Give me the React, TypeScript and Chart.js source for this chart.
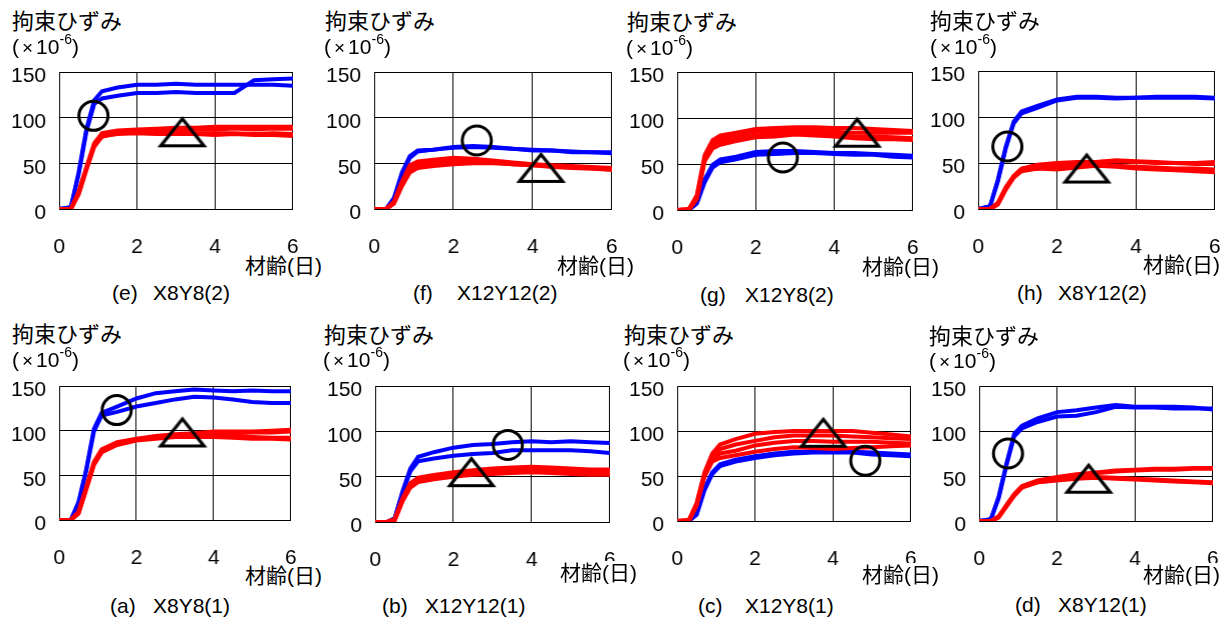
import React, { useEffect, useRef } from "react";
import { Chart, registerables } from "chart.js";

Chart.register(...registerables);

const FONT = "'Liberation Sans', Arial, 'Noto Sans CJK JP', sans-serif";

// shared axis data
const AGE = [0, 0.3, 0.5, 0.7, 0.9, 1.1, 1.5, 2, 2.5, 3, 3.5, 4, 4.5, 5, 5.5, 6];
const X_TICKS = [0, 2, 4, 6];
const Y_TICKS = [0, 50, 100, 150];
const Y_TITLE = "拘束ひずみ";
const X_TITLE = "材齢(日)";

// (e) X8Y8(2)
const E_BLUE_1 = [0, 2, 40, 88, 119, 129, 133, 136, 136, 137, 136, 136, 136, 136, 136, 135];
const E_BLUE_2 = [0, 2, 38, 85, 115, 121, 124, 127, 127, 128, 127, 127, 127, 141, 142, 143];
const E_RED_1 = [0, 0, 19, 46, 72, 83, 86, 87, 88, 89, 89, 90, 90, 90, 90, 90];
const E_RED_2 = [0, 0, 17, 44, 70, 81, 84, 86, 86, 87, 87, 87, 88, 87, 88, 88];
const E_RED_3 = [0, 0, 18, 45, 70, 80, 82, 83, 82, 82, 82, 81, 82, 81, 81, 80];
const E_RED_4 = [0, 0, 16, 43, 68, 79, 83, 85, 84, 84, 83, 83, 83, 82, 83, 82];
const E_CIRCLE = [0.88, 102];
const E_TRIANGLE = [3.16, 84];

// (f) X12Y12(2)
const F_BLUE_1 = [0, 0, 12, 40, 58, 64, 65, 68, 69, 68, 66, 65, 64, 63, 62, 62];
const F_BLUE_2 = [0, 0, 11, 38, 56, 63, 65, 67, 68, 67, 66, 64, 64, 62, 62, 61];
const F_RED_1 = [0, 0, 8, 30, 48, 52, 54, 56, 55, 53, 51, 49, 48, 47, 46, 45];
const F_RED_2 = [0, 0, 7, 28, 45, 49, 52, 54, 54, 52, 50, 49, 47, 46, 45, 44];
const F_RED_3 = [0, 0, 6, 25, 40, 45, 47, 49, 50, 50, 49, 48, 47, 46, 45, 43];
const F_RED_4 = [0, 0, 6, 26, 42, 47, 49, 51, 51, 51, 49, 48, 46, 45, 44, 43];
const F_CIRCLE = [2.59, 75];
const F_TRIANGLE = [4.21, 45];

// (g) X12Y8(2)
const G_BLUE_1 = [0, 0, 8, 33, 49, 55, 58, 63, 64, 64, 63, 62, 62, 61, 60, 59];
const G_BLUE_2 = [0, 0, 7, 30, 46, 52, 55, 60, 61, 62, 62, 61, 60, 60, 58, 57];
const G_RED_1 = [0, 1, 16, 60, 76, 81, 84, 88, 89, 90, 90, 89, 89, 88, 87, 86];
const G_RED_2 = [0, 1, 14, 57, 73, 78, 80, 85, 86, 86, 87, 85, 84, 84, 84, 84];
const G_RED_3 = [0, 0, 13, 55, 70, 75, 77, 81, 83, 84, 83, 82, 80, 80, 79, 78];
const G_RED_4 = [0, 0, 12, 53, 67, 71, 75, 79, 80, 82, 81, 80, 78, 77, 77, 76];
const G_CIRCLE = [2.69, 57];
const G_TRIANGLE = [4.58, 84];

// (h) X8Y12(2)
const H_BLUE_1 = [0, 3, 32, 68, 95, 106, 112, 119, 122, 122, 121, 121, 122, 122, 122, 121];
const H_BLUE_2 = [0, 3, 30, 66, 93, 104, 110, 118, 121, 121, 120, 121, 121, 121, 121, 120];
const H_RED_1 = [0, 0, 7, 24, 36, 44, 48, 50, 51, 51, 53, 52, 51, 50, 50, 51];
const H_RED_2 = [0, 0, 6, 22, 35, 43, 46, 49, 50, 51, 52, 51, 50, 50, 49, 49];
const H_RED_3 = [0, 0, 5, 21, 34, 41, 44, 46, 47, 48, 47, 46, 45, 44, 44, 43];
const H_RED_4 = [0, 0, 5, 22, 35, 42, 44, 43, 45, 47, 46, 44, 43, 42, 41, 40];
const H_CIRCLE = [0.74, 68];
const H_TRIANGLE = [2.75, 44];

// (a) X8Y8(1)
const A_BLUE_1 = [0, 0, 20, 57, 102, 120, 127, 136, 142, 144, 146, 145, 144, 145, 144, 144];
const A_BLUE_2 = [0, 0, 18, 55, 99, 117, 121, 127, 131, 135, 138, 137, 135, 132, 131, 131];
const A_RED_1 = [0, 0, 9, 37, 65, 79, 87, 91, 94, 96, 97, 99, 99, 99, 100, 101];
const A_RED_2 = [0, 0, 8, 35, 63, 77, 85, 90, 93, 95, 96, 97, 97, 98, 98, 99];
const A_RED_3 = [0, 0, 7, 34, 62, 76, 84, 89, 91, 93, 93, 93, 92, 91, 91, 90];
const A_RED_4 = [0, 0, 8, 35, 62, 76, 85, 90, 92, 94, 94, 94, 94, 93, 92, 92];
const A_CIRCLE = [1.49, 123];
const A_TRIANGLE = [3.19, 98];

// (b) X12Y12(1)
const B_BLUE_1 = [0, 0, 4, 34, 59, 72, 77, 82, 85, 86, 88, 89, 88, 89, 88, 87];
const B_BLUE_2 = [0, 0, 4, 32, 56, 67, 70, 73, 75, 76, 79, 79, 79, 79, 78, 76];
const B_RED_1 = [0, 0, 3, 26, 43, 49, 52, 55, 57, 59, 60, 61, 60, 59, 58, 58];
const B_RED_2 = [0, 0, 3, 25, 42, 47, 50, 53, 56, 57, 59, 59, 58, 57, 57, 56];
const B_RED_3 = [0, 0, 2, 24, 40, 45, 48, 51, 53, 55, 56, 57, 56, 55, 54, 54];
const B_RED_4 = [0, 0, 2, 23, 38, 44, 47, 50, 52, 53, 54, 55, 54, 53, 52, 52];
const B_CIRCLE = [3.39, 85];
const B_TRIANGLE = [2.46, 55];

// (c) X12Y8(1)
const C_BLUE_1 = [0, 0, 8, 36, 54, 63, 68, 72, 75, 77, 77, 77, 77, 76, 75, 74];
const C_BLUE_2 = [0, 0, 7, 34, 52, 61, 66, 70, 73, 75, 76, 76, 76, 74, 73, 72];
const C_RED_1 = [0, 1, 20, 54, 75, 85, 91, 97, 99, 100, 100, 100, 100, 98, 96, 94];
const C_RED_2 = [0, 1, 19, 52, 72, 80, 85, 89, 93, 95, 95, 95, 94, 93, 92, 91];
const C_RED_3 = [0, 0, 18, 50, 69, 75, 78, 84, 87, 89, 89, 88, 88, 88, 87, 86];
const C_RED_4 = [0, 0, 17, 49, 66, 70, 73, 77, 80, 82, 81, 80, 81, 82, 83, 84];
const C_CIRCLE = [4.83, 67];
const C_TRIANGLE = [3.75, 98];

// (d) X8Y12(1)
const D_BLUE_1 = [0, 2, 27, 64, 97, 106, 114, 121, 123, 126, 129, 127, 127, 127, 126, 124];
const D_BLUE_2 = [0, 2, 25, 62, 94, 103, 110, 116, 117, 121, 127, 126, 126, 125, 125, 125];
const D_RED_1 = [0, 0, 5, 18, 30, 39, 45, 49, 52, 54, 56, 57, 58, 58, 59, 59];
const D_RED_2 = [0, 0, 5, 17, 29, 38, 44, 48, 51, 53, 55, 56, 57, 57, 58, 58];
const D_RED_3 = [0, 0, 4, 16, 28, 37, 43, 46, 49, 49, 48, 47, 46, 45, 44, 43];
const D_RED_4 = [0, 0, 4, 17, 29, 38, 43, 45, 47, 48, 47, 46, 45, 44, 43, 42];
const D_CIRCLE = [0.74, 75];
const D_TRIANGLE = [2.81, 47];

type PanelDef = {
  key: string;
  label: string;
  name: string;
  blue: number[][];
  red: number[][];
  circle: number[];
  triangle: number[];
  plot: number[]; // l, t, r, b
  title: number[]; // left, centerY
  unit: number[];
  xTitle: number[];
  caption: number[]; // labelLeft, nameLeft, centerY
};

const PANELS: PanelDef[] = [
  { key: "e", label: "(e)", name: "X8Y8(2)", blue: [E_BLUE_1, E_BLUE_2], red: [E_RED_1, E_RED_2, E_RED_3, E_RED_4], circle: E_CIRCLE, triangle: E_TRIANGLE,
    plot: [59, 72, 292, 209], title: [12, 22], unit: [12, 47], xTitle: [245, 266], caption: [112, 153, 293] },
  { key: "f", label: "(f)", name: "X12Y12(2)", blue: [F_BLUE_1, F_BLUE_2], red: [F_RED_1, F_RED_2, F_RED_3, F_RED_4], circle: F_CIRCLE, triangle: F_TRIANGLE,
    plot: [374, 72, 611, 209], title: [325, 22], unit: [324, 47], xTitle: [557, 266], caption: [413, 457, 293] },
  { key: "g", label: "(g)", name: "X12Y8(2)", blue: [G_BLUE_1, G_BLUE_2], red: [G_RED_1, G_RED_2, G_RED_3, G_RED_4], circle: G_CIRCLE, triangle: G_TRIANGLE,
    plot: [677, 72, 912, 210], title: [627, 23], unit: [626, 48], xTitle: [862, 267], caption: [700, 745, 295] },
  { key: "h", label: "(h)", name: "X8Y12(2)", blue: [H_BLUE_1, H_BLUE_2], red: [H_RED_1, H_RED_2, H_RED_3, H_RED_4], circle: H_CIRCLE, triangle: H_TRIANGLE,
    plot: [978, 71, 1214, 209], title: [930, 22], unit: [930, 47], xTitle: [1143, 265], caption: [1017, 1058, 293] },
  { key: "a", label: "(a)", name: "X8Y8(1)", blue: [A_BLUE_1, A_BLUE_2], red: [A_RED_1, A_RED_2, A_RED_3, A_RED_4], circle: A_CIRCLE, triangle: A_TRIANGLE,
    plot: [59, 386, 290, 520], title: [12, 335], unit: [12, 360], xTitle: [245, 576], caption: [110, 153, 606] },
  { key: "b", label: "(b)", name: "X12Y12(1)", blue: [B_BLUE_1, B_BLUE_2], red: [B_RED_1, B_RED_2, B_RED_3, B_RED_4], circle: B_CIRCLE, triangle: B_TRIANGLE,
    plot: [375, 386, 609, 522], title: [324, 336], unit: [323, 360], xTitle: [560, 573], caption: [382, 425, 606] },
  { key: "c", label: "(c)", name: "X12Y8(1)", blue: [C_BLUE_1, C_BLUE_2], red: [C_RED_1, C_RED_2, C_RED_3, C_RED_4], circle: C_CIRCLE, triangle: C_TRIANGLE,
    plot: [677, 386, 910, 521], title: [624, 336], unit: [623, 360], xTitle: [862, 575], caption: [698, 745, 606] },
  { key: "d", label: "(d)", name: "X8Y12(1)", blue: [D_BLUE_1, D_BLUE_2], red: [D_RED_1, D_RED_2, D_RED_3, D_RED_4], circle: D_CIRCLE, triangle: D_TRIANGLE,
    plot: [979, 386, 1212, 521], title: [929, 337], unit: [929, 361], xTitle: [1143, 575], caption: [1015, 1058, 605] },
];

const YW = 58;
const PT = 16;
const PR = 16;
const XH = 50;

function makeTriangle(): HTMLCanvasElement {
  const c = document.createElement("canvas");
  c.width = 60;
  c.height = 44;
  const ctx = c.getContext("2d")!;
  ctx.lineWidth = 3.2;
  ctx.strokeStyle = "#000";
  ctx.lineJoin = "miter";
  ctx.beginPath();
  ctx.moveTo(30, 8.5);
  ctx.lineTo(51.5, 35.5);
  ctx.lineTo(8.5, 35.5);
  ctx.closePath();
  ctx.stroke();
  return c;
}

function toXY(values: number[]) {
  return AGE.map((x, i) => ({ x, y: values[i] }));
}

function Panel({ p }: { p: PanelDef }) {
  const ref = useRef<HTMLCanvasElement | null>(null);
  const [l, t, r, b] = p.plot;
  const w = r - l + YW + PR;
  const h = b - t + PT + XH;

  useEffect(() => {
    const canvas = ref.current;
    if (!canvas) return;
    const tri = makeTriangle();
    const datasets: any[] = [
      {
        data: [{ x: p.circle[0], y: p.circle[1] }],
        showLine: false,
        pointStyle: "circle",
        pointRadius: 14.5,
        pointBorderWidth: 3,
        pointBorderColor: "#000",
        pointBackgroundColor: "rgba(0,0,0,0)",
        order: 0,
        clip: false,
      },
      {
        data: [{ x: p.triangle[0], y: p.triangle[1] }],
        showLine: false,
        pointStyle: tri,
        pointRadius: 20,
        order: 0,
        clip: false,
      },
      ...p.red.map((s) => ({
        data: toXY(s),
        borderColor: "#ff0000",
        borderWidth: 4,
        pointRadius: 0,
        tension: 0,
        fill: false,
        order: 1,
      })),
      ...p.blue.map((s) => ({
        data: toXY(s),
        borderColor: "#0000ff",
        borderWidth: 4,
        pointRadius: 0,
        tension: 0,
        fill: false,
        order: 2,
      })),
    ];
    const xFont = { family: FONT, size: 21 };
    const yFont = { family: FONT, size: 21, lineHeight: "9px" };
    const chart = new Chart(canvas, {
      type: "line",
      data: { datasets },
      options: {
        animation: false,
        responsive: false,
        maintainAspectRatio: false,
        devicePixelRatio: 1,
        events: [],
        layout: { padding: { top: PT, right: PR, left: 0, bottom: 0 } },
        plugins: { legend: { display: false }, tooltip: { enabled: false } },
        scales: {
          x: {
            type: "linear",
            min: 0,
            max: 6,
            afterBuildTicks: (s: any) => {
              s.ticks = X_TICKS.map((v) => ({ value: v }));
            },
            afterFit: (s: any) => {
              s.height = XH;
            },
            grid: { color: "#000", lineWidth: 1, drawTicks: false },
            border: { color: "#000", width: 1 },
            ticks: { padding: 26, font: xFont, color: "#000", maxRotation: 0, autoSkip: false },
          },
          y: {
            type: "linear",
            min: 0,
            max: 150,
            afterBuildTicks: (s: any) => {
              s.ticks = Y_TICKS.map((v) => ({ value: v }));
            },
            afterFit: (s: any) => {
              s.width = YW;
            },
            grid: { color: "#000", lineWidth: 1, drawTicks: false },
            border: { color: "#000", width: 1 },
            ticks: {
              padding: 13,
              font: yFont,
              color: "#000",
              autoSkip: false,
              // blank first line nudges the number slightly below its grid line, as in the reference
              callback: (v: any) => ["", String(v)],
            },
          },
        },
      } as any,
    });
    // fit the plot area exactly onto the reference rectangle
    let ca = chart.chartArea;
    const dw = r - l - (ca.right - ca.left);
    const dh = b - t - (ca.bottom - ca.top);
    if (Math.abs(dw) > 0.1 || Math.abs(dh) > 0.1) {
      chart.resize(w + dw, h + dh);
      ca = chart.chartArea;
    }
    canvas.style.left = `${l - ca.left}px`;
    canvas.style.top = `${t - ca.top}px`;
    return () => chart.destroy();
  }, []);

  return (
    <>
      <canvas
        ref={ref}
        width={w}
        height={h}
        style={{ position: "absolute", left: l - YW, top: t - PT, width: w, height: h, zIndex: 1 }}
      />
      <div style={{ ...textBase, fontSize: 22, left: p.title[0], top: p.title[1] - 13, height: 26, lineHeight: "26px" }}>{Y_TITLE}</div>
      <div style={{ ...textBase, fontSize: 21, left: p.unit[0], top: p.unit[1] - 12, height: 24, lineHeight: "24px" }}>
        (<span style={{ fontSize: 19, margin: "0 3px" }}>×</span>10<sup style={{ fontSize: 14, verticalAlign: "top", lineHeight: "14px", position: "relative", top: -3 }}>-6</sup>)
      </div>
      <div style={{ ...textBase, fontSize: 21, left: p.xTitle[0], top: p.xTitle[1] - 12, height: 24, lineHeight: "24px", background: "#fff", zIndex: 3 }}>{X_TITLE}</div>
      <div style={{ ...textBase, fontSize: 21, left: p.caption[0], top: p.caption[2] - 12, height: 24, lineHeight: "24px" }}>{p.label}</div>
      <div style={{ ...textBase, fontSize: 21, left: p.caption[1], top: p.caption[2] - 12, height: 24, lineHeight: "24px" }}>{p.name}</div>
    </>
  );
}

const textBase: React.CSSProperties = {
  position: "absolute",
  fontFamily: FONT,
  color: "#000",
  whiteSpace: "pre",
  zIndex: 2,
};

export default function App() {
  return (
    <div style={{ position: "fixed", left: 0, top: 0, width: 1232, height: 621, background: "#fff", overflow: "hidden" }}>
      {PANELS.map((p) => (
        <Panel key={p.key} p={p} />
      ))}
    </div>
  );
}
